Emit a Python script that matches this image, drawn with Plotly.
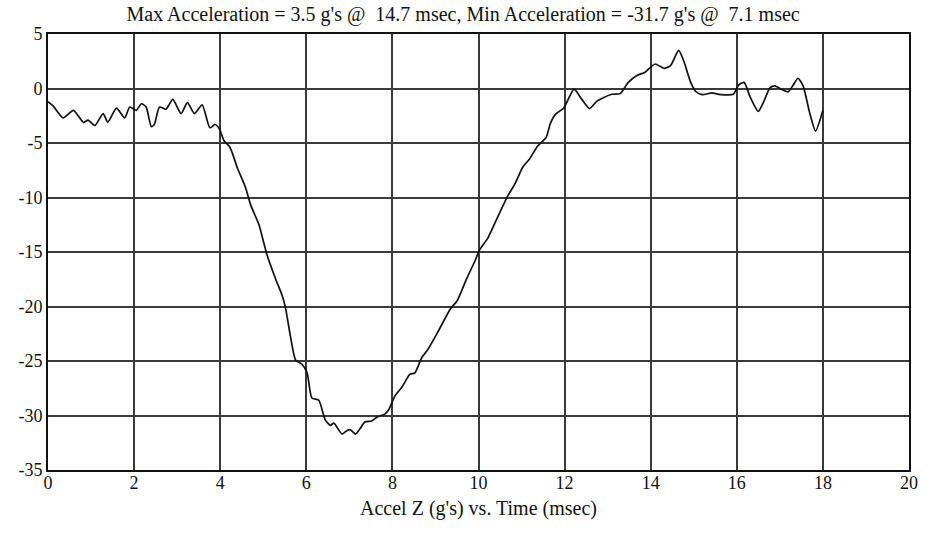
import plotly.graph_objects as go

time_ms = [0.0, 0.12, 0.35, 0.59, 0.82, 0.93, 1.09, 1.28, 1.39, 1.59, 1.78, 1.90, 2.05, 2.17, 2.28,
           2.40, 2.47, 2.59, 2.74, 2.90, 3.09, 3.24, 3.40, 3.58, 3.76, 3.88, 3.98, 4.09, 4.21, 4.28,
           4.40, 4.59, 4.71, 4.90, 5.09, 5.29, 5.44, 5.52, 5.63, 5.75, 5.90, 6.02, 6.13, 6.29, 6.44,
           6.56, 6.64, 6.83, 6.94, 7.02, 7.14, 7.25, 7.36, 7.52, 7.64, 7.83, 7.91, 8.06, 8.22, 8.41,
           8.52, 8.68, 8.83, 9.06, 9.35, 9.50, 9.73, 9.92, 10.02, 10.22, 10.41, 10.68, 10.84, 11.03,
           11.18, 11.37, 11.57, 11.67, 11.79, 11.98, 12.22, 12.40, 12.58, 12.75, 12.90, 13.10, 13.29,
           13.48, 13.68, 13.87, 14.10, 14.31, 14.46, 14.65, 14.77, 14.92, 15.04, 15.19, 15.42, 15.58,
           15.92, 16.04, 16.17, 16.31, 16.50, 16.62, 16.77, 16.88, 17.08, 17.19, 17.31, 17.42, 17.54,
           17.69, 17.83, 18.0]
accel_g = [-1.2, -1.6, -2.7, -2.0, -3.1, -2.9, -3.4, -2.3, -3.1, -1.8, -2.7, -1.7, -2.0, -1.4, -1.7,
           -3.5, -3.3, -1.7, -1.9, -1.0, -2.3, -1.3, -2.3, -1.5, -3.6, -3.3, -3.7, -4.8, -5.3, -5.9,
           -7.3, -9.1, -10.7, -12.5, -15.3, -17.5, -19.0, -20.2, -22.7, -24.9, -25.3, -26.1, -28.4, -28.6, -30.4,
           -30.9, -30.7, -31.7, -31.4, -31.3, -31.7, -31.2, -30.6, -30.5, -30.15, -29.85, -29.5, -28.2, -27.4, -26.2,
           -26.1, -24.7, -23.9, -22.3, -20.2, -19.5, -17.4, -15.8, -14.85, -13.7, -12.1, -9.85, -8.8, -7.2,
           -6.5, -5.3, -4.5, -3.2, -2.35, -1.8, -0.06, -1.0, -1.84, -1.16, -0.84, -0.53, -0.47,
           0.56, 1.19, 1.5, 2.25, 1.85, 2.1, 3.5, 2.5, 0.65, -0.25, -0.56, -0.41, -0.53,
           -0.53, 0.31, 0.56, -0.78, -2.1, -1.25, 0.06, 0.25, -0.16, -0.31, 0.31, 0.94, 0.25,
           -2.19, -3.9, -2.0]

x_ticks = [0, 2, 4, 6, 8, 10, 12, 14, 16, 18, 20]
y_ticks = [5, 0, -5, -10, -15, -20, -25, -30, -35]

title_text = ("Max Acceleration = 3.5 g's @\u00a0 14.7 msec, "
              "Min Acceleration = -31.7 g's @\u00a0 7.1 msec")
x_title = "Accel Z (g's) vs. Time (msec)"

FONT = "Liberation Serif, Times New Roman, serif"

fig = go.Figure()
fig.add_trace(go.Scatter(
    x=time_ms, y=accel_g, mode="lines",
    line=dict(color="#111111", width=1.7, shape="spline", smoothing=0.6),
    showlegend=False, hoverinfo="x+y",
))

fig.update_layout(
    width=930, height=535,
    margin=dict(l=48, r=17, t=34, b=65),
    paper_bgcolor="white", plot_bgcolor="white",
    font=dict(family=FONT, size=18, color="#111111"),
    title=dict(text=title_text, x=0.498, xref="container", xanchor="center",
               y=0.974, yref="container", yanchor="middle",
               font=dict(family=FONT, size=20, color="#111111")),
)
fig.update_xaxes(
    range=[0, 20], tickvals=x_ticks, ticktext=[str(v) for v in x_ticks],
    showgrid=True, gridcolor="#3a3a3a", gridwidth=1.5,
    showline=True, linecolor="#111111", linewidth=1.8, mirror=True,
    zeroline=False, ticks="", tickfont=dict(family=FONT, size=18),
    ticklabelstandoff=-5,
    title=dict(text=x_title, font=dict(family=FONT, size=20), standoff=9),
)
fig.update_yaxes(
    range=[-35, 5], tickvals=y_ticks, ticktext=[str(v) for v in y_ticks],
    showgrid=True, gridcolor="#3a3a3a", gridwidth=1.5,
    showline=True, linecolor="#111111", linewidth=1.8, mirror=True,
    zeroline=False, ticks="", tickfont=dict(family=FONT, size=18),
)

fig.write_html("out.html")
